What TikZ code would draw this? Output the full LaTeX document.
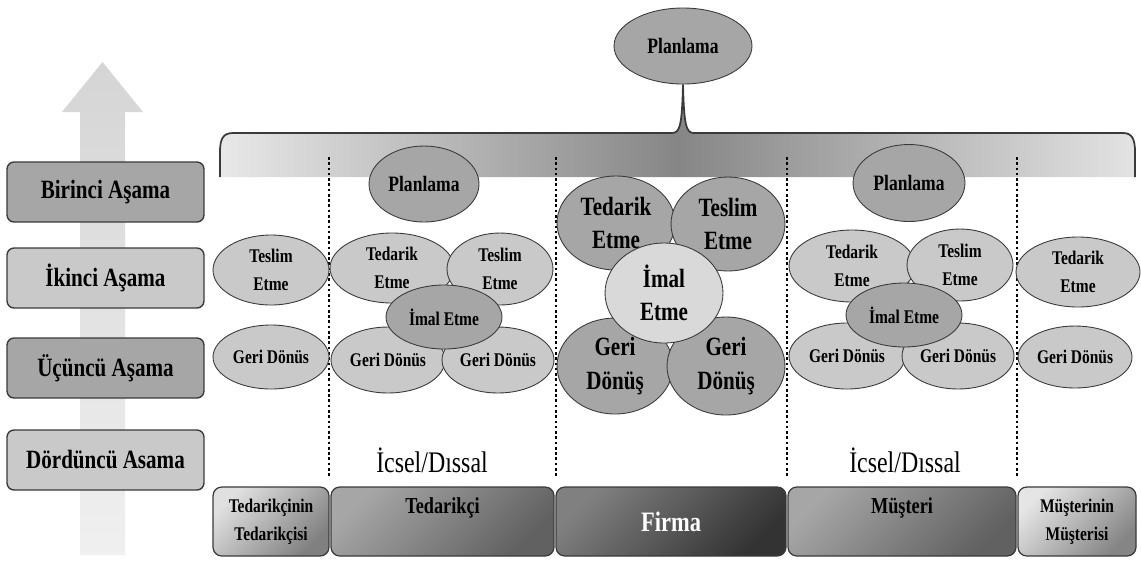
\documentclass[tikz,border=0pt]{standalone}
\usepackage{fontspec}
\setmainfont{Liberation Serif}[FakeStretch=0.8]
\usetikzlibrary{shapes.geometric}

\definecolor{darkfill}{HTML}{A6A6A6}
\definecolor{lightfill}{HTML}{C9C9C9}
\definecolor{palefill}{HTML}{D9D9D9}
\definecolor{edge}{HTML}{3A3A3A}

\tikzset{
    stage/.style={draw=edge, line width=0.8pt, rounded corners=4pt, minimum width=3.94cm, minimum height=1.2cm, font=\fontsize{15}{18}\selectfont\bfseries},
    oval/.style={ellipse, draw=edge, line width=0.5pt, inner sep=0pt, align=center, font=\fontsize{11}{16}\selectfont\bfseries},
    lite/.style={oval, fill=lightfill},
    dark/.style={oval, fill=darkfill},
    bigoval/.style={oval, font=\fontsize{15}{19}\selectfont\bfseries},
    party/.style={draw=edge, line width=0.7pt, rounded corners=5pt, minimum height=1.38cm, align=center, font=\fontsize{11}{16}\selectfont\bfseries},
    divider/.style={line width=1.3pt, dash pattern=on 1.5pt off 1.5pt}
}

\begin{document}
\begin{tikzpicture}[x=0.02cm, y=-0.02cm]

    \useasboundingbox (0,0) rectangle (1141,566);

    % rising arrow behind the stages
    \shade[bottom color=gray!12, top color=gray!33] (80,555) -- (80,112) -- (62,112) -- (102.5,62) -- (143,112) -- (125,112) -- (125,555) -- cycle;

    % stages
    \node[stage, fill=darkfill] (s1) at (105.5,192) {Birinci Aşama};
    \node[stage, fill=lightfill] (s2) at (105.5,278) {İkinci Aşama};
    \node[stage, fill=darkfill] (s3) at (105.5,368) {Üçüncü Aşama};
    \node[stage, fill=lightfill] (s4) at (105.5,460) {Dördüncü Asama};

    % overall planning and its brace
    \node[dark, minimum width=2.76cm, minimum height=1.52cm, font=\fontsize{12.5}{15}\selectfont\bfseries] (plan) at (683,46) {Planlama};
    \path[left color=gray!18, right color=gray!22, middle color=gray!95] (220,177) -- (220,152) .. controls (220,139) and (223,133) .. (233,133) -- (672,133) .. controls (680,133) and (682,125) .. (plan.south) .. controls (684,125) and (686,133) .. (694,133) -- (1123,133) .. controls (1132,133) and (1135,139) .. (1135,152) -- (1135,177) -- cycle;
    \draw[edge, line width=1pt] (220,177) -- (220,152) .. controls (220,139) and (223,133) .. (233,133) -- (672,133) .. controls (680,133) and (682,125) .. (plan.south) .. controls (684,125) and (686,133) .. (694,133) -- (1123,133) .. controls (1132,133) and (1135,139) .. (1135,152) -- (1135,177);

    % column borders
    \foreach \x in {329,556,787,1017}
        \draw[divider] (\x,157) -- (\x,478);

    % supplier's supplier
    \node[lite, minimum width=2.32cm, minimum height=1.40cm] (c1tes) at (271,270) {Teslim\\Etme};
    \node[lite, minimum width=2.32cm, minimum height=1.28cm] (c1ger) at (271,357) {Geri Dönüs};

    % supplier
    \node[dark, minimum width=2.20cm, minimum height=1.52cm, font=\fontsize{12.5}{15}\selectfont\bfseries] (c2pla) at (424,184) {Planlama};
    \node[lite, minimum width=2.28cm, minimum height=1.32cm] (c2gl) at (388,360) {Geri Dönüs};
    \node[lite, minimum width=2.24cm, minimum height=1.32cm] (c2gr) at (498,360) {Geri Dönüs};
    \node[lite, minimum width=2.48cm, minimum height=1.40cm] (c2ted) at (392,268) {Tedarik\\Etme};
    \node[lite, minimum width=2.12cm, minimum height=1.44cm] (c2tes) at (500,269) {Teslim\\Etme};
    \node[dark, minimum width=2.32cm, minimum height=1.28cm] (c2ima) at (444,317) {İmal Etme};

    % firm
    \node[bigoval, fill=darkfill, minimum width=2.36cm, minimum height=1.88cm] (c3ted) at (616,223) {Tedarik\\Etme};
    \node[bigoval, fill=darkfill, minimum width=2.28cm, minimum height=1.88cm] (c3tes) at (728,224) {Teslim\\Etme};
    \node[bigoval, fill=darkfill, minimum width=2.32cm, minimum height=1.92cm] (c3gl) at (615,366) {Geri\\Dönüş};
    \node[bigoval, fill=darkfill, minimum width=2.36cm, minimum height=1.96cm] (c3gr) at (726,366) {Geri\\Dönüş};
    \node[bigoval, fill=palefill, minimum width=2.36cm, minimum height=2.00cm] (c3ima) at (664,293) {İmal\\Etme};

    % customer
    \node[dark, minimum width=2.24cm, minimum height=1.54cm, font=\fontsize{12.5}{15}\selectfont\bfseries] (c4pla) at (909,183) {Planlama};
    \node[lite, minimum width=2.32cm, minimum height=1.32cm] (c4gl) at (847,356) {Geri Dönüs};
    \node[lite, minimum width=2.24cm, minimum height=1.32cm] (c4gr) at (958,356) {Geri Dönüs};
    \node[lite, minimum width=2.52cm, minimum height=1.44cm] (c4ted) at (852,266) {Tedarik\\Etme};
    \node[lite, minimum width=2.12cm, minimum height=1.44cm] (c4tes) at (960,265) {Teslim\\Etme};
    \node[dark, minimum width=2.32cm, minimum height=1.28cm] (c4ima) at (904,315) {İmal Etme};

    % customer's customer
    \node[lite, minimum width=2.48cm, minimum height=1.40cm] (c5ted) at (1078,272) {Tedarik\\Etme};
    \node[lite, minimum width=2.28cm, minimum height=1.24cm] (c5ger) at (1075,357) {Geri Dönüs};

    % internal / external
    \node[font=\fontsize{17}{20}\selectfont] (ic1) at (432,460) {İcsel/Dıssal};
    \node[font=\fontsize{17}{20}\selectfont] (ic2) at (905,460) {İcsel/Dıssal};

    % parties of the chain
    \node[party, minimum width=2.32cm, top color=black!12, bottom color=black!50, shading angle=45] (b1) at (271,521.5) {Tedarikçinin\\Tedarikçisi};
    \node[party, minimum width=4.46cm, top color=black!35, bottom color=black!62, shading angle=45, text depth=18pt, font=\fontsize{13}{16}\selectfont\bfseries] (b2) at (442.5,521.5) {Tedarikçi};
    \node[party, minimum width=4.60cm, top color=black!50, bottom color=black!80, shading angle=45, text=white, font=\fontsize{16}{19}\selectfont\bfseries] (b3) at (671,521.5) {Firma};
    \node[party, minimum width=4.56cm, top color=black!35, bottom color=black!62, shading angle=45, text depth=18pt, font=\fontsize{13}{16}\selectfont\bfseries] (b4) at (902,521.5) {Müşteri};
    \node[party, minimum width=2.36cm, top color=black!10, bottom color=black!48, shading angle=45] (b5) at (1077,521.5) {Müşterinin\\Müşterisi};

\end{tikzpicture}
\end{document}
